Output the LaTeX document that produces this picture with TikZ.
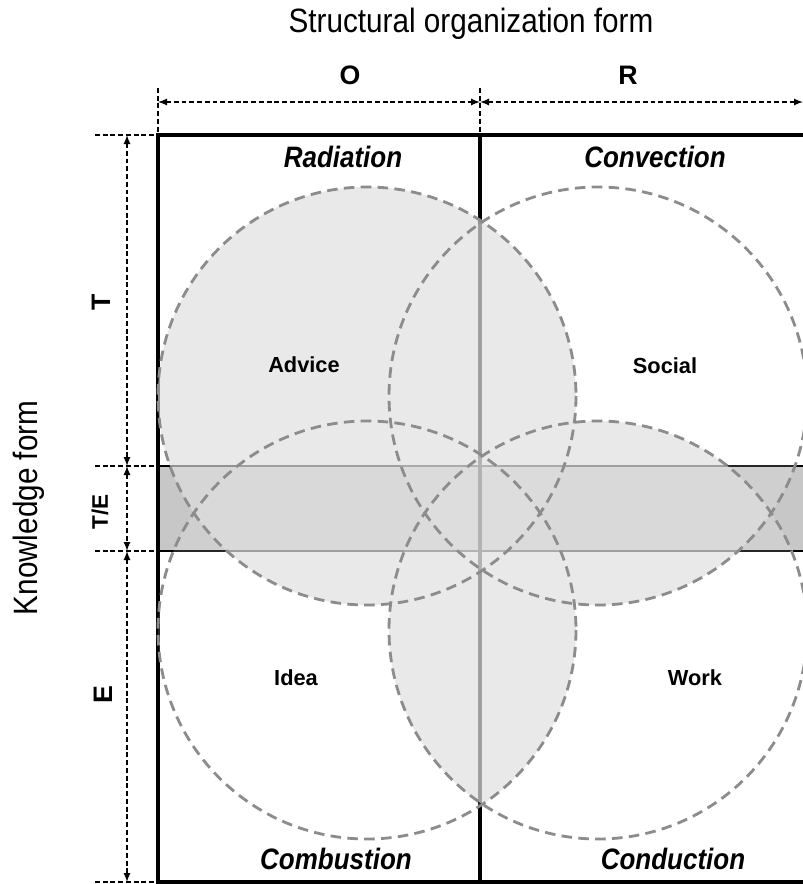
\documentclass[tikz,border=0pt]{standalone}
\usepackage{fontspec}
\setmainfont{Liberation Sans}
\newfontfamily\narrowsans[FakeStretch=0.88]{Liberation Sans}
\usetikzlibrary{arrows, backgrounds, positioning}

\definecolor{bandgray}{gray}{0.78}
\definecolor{lensgray}{gray}{0.86}
\definecolor{ringgray}{gray}{0.55}

\newcommand{\ringr}{209}

\begin{document}
\begin{tikzpicture}[
        x=0.025cm,
        y=-0.025cm,
        semithick
    ]

    \tikzstyle{frameline}=[line width=2.2pt, black]
    \tikzstyle{bandline}=[line width=1.8pt, black]
    \tikzstyle{guide}=[line width=1.2pt, dash pattern=on 3.5pt off 2pt]
    \tikzstyle{dim}=[guide, latex-latex]
    \tikzstyle{ring}=[line width=2pt, draw=ringgray, dash pattern=on 7.5pt off 4.5pt]
    \tikzstyle{lens}=[fill=lensgray, fill opacity=0.6]
    \tikzstyle{veil}=[fill=white, fill opacity=0.15]
    \tikzstyle{axislabel}=[font=\narrowsans\fontsize{24}{28}\selectfont]
    \tikzstyle{partlabel}=[font=\bfseries\fontsize{19}{23}\selectfont]
    \tikzstyle{modelabel}=[font=\narrowsans\bfseries\itshape\fontsize{21}{25}\selectfont]
    \tikzstyle{tielabel}=[font=\bfseries\fontsize{15.5}{18}\selectfont]

    \useasboundingbox[fill=white] (0,0) rectangle (803,884);

    % circle centres
    \coordinate (A) at (367,396);
    \coordinate (S) at (598,396);
    \coordinate (I) at (367,630);
    \coordinate (W) at (598,630);

    % frame
    \coordinate (nw) at (158,135);
    \coordinate (n) at (480,135);
    \coordinate (ne) at (803,135);
    \coordinate (sw) at (158,882);
    \coordinate (s) at (480,882);
    \coordinate (se) at (803,882);
    \coordinate (bw) at (158,466);
    \coordinate (be) at (803,466);
    \coordinate (cw) at (158,551);
    \coordinate (ce) at (803,551);

    \fill[bandgray] (bw) rectangle (ce);
    \draw[bandline] (bw) -- (be);
    \draw[bandline] (cw) -- (ce);
    \draw[frameline] (ne) -- (nw) -- (sw) -- (se);
    \draw[frameline] (n) -- (s);

    % circles
    \foreach \c in {A,S,I,W}
        \fill[veil] (\c) circle[radius=\ringr];

    \fill[lens] (A) circle[radius=\ringr];
    \begin{scope}[even odd rule]
        \clip (0,0) rectangle (803,884) (A) circle[radius=\ringr];
        \clip (S) circle[radius=\ringr];
        \fill[lens] (W) circle[radius=\ringr];
    \end{scope}
    \begin{scope}[even odd rule]
        \clip (0,0) rectangle (803,884) (A) circle[radius=\ringr];
        \clip (0,0) rectangle (803,884) (S) circle[radius=\ringr];
        \clip (I) circle[radius=\ringr];
        \fill[lens] (W) circle[radius=\ringr];
    \end{scope}

    \foreach \c in {A,S,I,W}
        \draw[ring] (\c) circle[radius=\ringr];

    % dimension lines
    \coordinate (gl) at (158,88);
    \coordinate (gm) at (480,88);
    \coordinate (oL) at (158,102);
    \coordinate (oM) at (480,102);
    \coordinate (oR) at (803,102);
    \coordinate (hT) at (95,135);
    \coordinate (hM) at (95,466);
    \coordinate (hB) at (95,551);
    \coordinate (hE) at (95,882);
    \coordinate (tT) at (127,135);
    \coordinate (tM) at (127,466);
    \coordinate (tB) at (127,551);
    \coordinate (tE) at (127,882);

    \path[guide] (gl) edge (nw);
    \path[guide] (gm) edge (n);
    \path[guide] (hT) edge (nw);
    \path[guide] (hM) edge (bw);
    \path[guide] (hB) edge (cw);
    \path[guide] (hE) edge (sw);

    \path[dim] (oL) edge (oM);
    \path[dim] (oM) edge (oR);
    \path[dim] (tT) edge (tM);
    \path[dim] (tM) edge (tB);
    \path[dim] (tB) edge (tE);

    % labels
    \node[axislabel] (sof) at (471,24) {Structural organization form};
    \node[axislabel, rotate=90] (kf) at (29,508) {Knowledge form};

    \node[partlabel] (o) at (350,75) {O};
    \node[partlabel] (r) at (628,75) {R};
    \node[partlabel, rotate=90] (t) at (101,302) {T};
    \node[partlabel, rotate=90, font=\bfseries\fontsize{16}{19}\selectfont] (te) at (100,512) {T/E};
    \node[partlabel, rotate=90] (e) at (103,695) {E};

    \node[modelabel] (rad) at (343,157) {Radiation};
    \node[modelabel] (conv) at (655,157) {Convection};
    \node[modelabel] (comb) at (336,859) {Combustion};
    \node[modelabel] (cond) at (673,859) {Conduction};

    \node[tielabel] (advice) at (304,365) {Advice};
    \node[tielabel] (social) at (665,366) {Social};
    \node[tielabel] (idea) at (296,678) {Idea};
    \node[tielabel] (work) at (695,678) {Work};

\end{tikzpicture}
\end{document}
